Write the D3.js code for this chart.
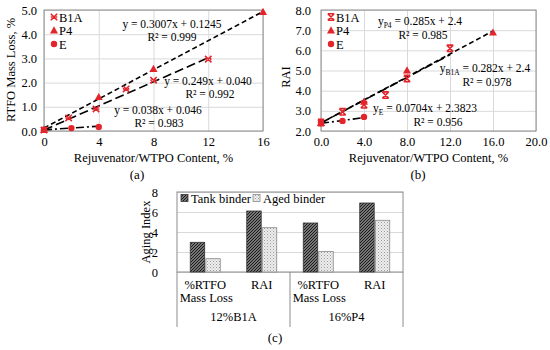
<!DOCTYPE html>
<html>
<head>
<meta charset="utf-8">
<script src="https://cdn.jsdelivr.net/npm/d3@7"></script>
<style>
  html, body { margin: 0; padding: 0; background: #fff; }
  svg { display: block; font-family: "Liberation Serif", "Times New Roman", serif; }
</style>
</head>
<body>
<svg id="chart" width="550" height="350"></svg>
<script>
// ── data ────────────────────────────────────────────────────────────────────
// (a) RTFO mass loss vs content
const massB1A_x = [0, 1.8, 3.8, 6, 8, 12];
const massB1A_y = [0.04, 0.54, 0.91, 1.74, 2.1, 2.97];
const massP4_x  = [0, 4, 8, 16];
const massP4_y  = [0.05, 1.4, 2.56, 4.92];
const massE_x   = [0, 2, 4];
const massE_y   = [0.05, 0.12, 0.17];
const massTicksX = [0, 4, 8, 12, 16];
const massTicksY = [0, 1, 2, 3, 4, 5];

// trendlines (B1A, P4, E) as printed on the chart
const massFitSlope     = [0.249, 0.3007, 0.038];
const massFitIntercept = [0.040, 0.1245, 0.046];
const massFitMaxX      = [12, 16, 4];

// (b) RAI vs content
const raiB1A_x = [0, 2, 4, 6, 8, 12];
const raiB1A_y = [2.42, 2.95, 3.3, 3.78, 4.6, 6.1];
const raiP4_x  = [0, 4, 8, 16];
const raiP4_y  = [2.4, 3.45, 5.0, 6.88];
const raiE_x   = [0, 2, 4];
const raiE_y   = [2.4, 2.5, 2.7];
const raiTicksX = [0, 4, 8, 12, 16, 20];
const raiTicksY = [2, 3, 4, 5, 6, 7, 8];

const raiFitSlope     = [0.282, 0.285, 0.0704];
const raiFitIntercept = [2.4, 2.4, 2.3823];
const raiFitMaxX      = [12, 16, 4];

// (c) aging index bars
const agingGroups  = ["12%B1A", "16%P4"];
const agingIndices = ["%RTFO Mass Loss", "RAI"];
const agingTank    = [2.97, 6.1, 4.9, 6.9];
const agingAged    = [1.33, 4.43, 2.05, 5.17];
const agingTicksY  = [0, 2, 4, 6, 8];

const seriesNames = ["B1A", "P4", "E"];
const barNames    = ["Tank binder", "Aged binder"];

// ── style ───────────────────────────────────────────────────────────────────
const FONT  = "Liberation Serif";
const FS    = 12.5;
const RED   = "#e3242b";
const GRID  = "#d9d9d9";
const FRAME = "#8c8c8c";
const DASH  = ["9,4", "5,3", "8,3,2,3"];   // B1A, P4, E trendlines

const svg = d3.select("#chart");
svg.append("rect").attr("width", 550).attr("height", 350).attr("fill", "#fff");

const defs = svg.append("defs");
const hatch = defs.append("pattern")
  .attr("id", "hatch").attr("patternUnits", "userSpaceOnUse")
  .attr("width", 3).attr("height", 3);
hatch.append("rect").attr("width", 3).attr("height", 3).attr("fill", "#767676");
hatch.append("path").attr("d", "M-1,1 l2,-2 M0,3 l3,-3 M2,4 l2,-2")
  .attr("stroke", "#1a1a1a").attr("stroke-width", 1);

const dots = defs.append("pattern")
  .attr("id", "dots").attr("patternUnits", "userSpaceOnUse")
  .attr("width", 3).attr("height", 3);
dots.append("rect").attr("width", 3).attr("height", 3).attr("fill", "#eeeeee");
dots.append("rect").attr("width", 1).attr("height", 1).attr("fill", "#9a9a9a");
dots.append("rect").attr("x", 1.5).attr("y", 1.5).attr("width", 1).attr("height", 1).attr("fill", "#b5b5b5");

function txt(g) {
  return g.append("text").attr("font-family", FONT).attr("font-size", FS).attr("fill", "#000");
}

// ── marker shapes ───────────────────────────────────────────────────────────
function drawMarker(g, type, x, y, hourglass) {
  if (type === "B1A") {
    const s = 3.2;
    let d = `M${x - s},${y - s}L${x + s},${y + s}M${x + s},${y - s}L${x - s},${y + s}`;
    if (hourglass) d += `M${x - s},${y - s}H${x + s}M${x - s},${y + s}H${x + s}`;
    else d += `M${x - s},${y}H${x - s + 1.5}M${x + s},${y}H${x + s - 1.5}`;
    g.append("path").attr("d", d).attr("stroke", RED).attr("stroke-width", 1.6).attr("fill", "none");
  } else if (type === "P4") {
    g.append("path")
      .attr("d", `M${x},${y - 4.2}L${x + 4},${y + 3}L${x - 4},${y + 3}Z`)
      .attr("fill", RED);
  } else {
    g.append("circle").attr("cx", x).attr("cy", y).attr("r", 3.2).attr("fill", RED);
  }
}

// ── scatter panel ───────────────────────────────────────────────────────────
function scatterPanel(opt) {
  const g = svg.append("g");
  const x = d3.scaleLinear().domain(opt.xDomain).range(opt.xRange);
  const y = d3.scaleLinear().domain(opt.yDomain).range(opt.yRange);

  // axes with gridlines
  g.append("g").attr("transform", `translate(0,${opt.yRange[0]})`)
    .call(d3.axisBottom(x).tickValues(opt.ticksX).tickSize(opt.yRange[1] - opt.yRange[0])
      .tickFormat(d => opt.fmtX(d)).tickPadding(6))
    .call(a => a.select(".domain").remove())
    .call(a => a.selectAll("line").attr("stroke", GRID))
    .call(a => a.selectAll("text").attr("font-family", FONT).attr("font-size", FS).attr("fill", "#000"));

  g.append("g").attr("transform", `translate(${opt.xRange[0]},0)`)
    .call(d3.axisLeft(y).tickValues(opt.ticksY).tickSize(opt.xRange[0] - opt.xRange[1])
      .tickFormat(d3.format(".1f")).tickPadding(opt.yPad))
    .call(a => a.select(".domain").remove())
    .call(a => a.selectAll("line").attr("stroke", GRID))
    .call(a => a.selectAll("text").attr("font-family", FONT).attr("font-size", FS).attr("fill", "#000"));

  // frame
  g.append("rect")
    .attr("x", opt.xRange[0]).attr("y", opt.yRange[1])
    .attr("width", opt.xRange[1] - opt.xRange[0]).attr("height", opt.yRange[0] - opt.yRange[1])
    .attr("fill", "none").attr("stroke", FRAME).attr("stroke-width", 1);

  // trendlines
  const line = d3.line().x(d => x(d[0])).y(d => y(d[1]));
  opt.fitSlope.forEach((m, i) => {
    const b = opt.fitIntercept[i];
    const pts = [[0, b], [opt.fitMaxX[i], m * opt.fitMaxX[i] + b]];
    g.append("path").attr("d", line(pts)).attr("fill", "none")
      .attr("stroke", "#000").attr("stroke-width", 1.6).attr("stroke-dasharray", DASH[i]);
  });

  // markers
  const pts = g.append("g");
  opt.series.forEach((s, i) => {
    s.x.forEach((xv, j) => drawMarker(pts, seriesNames[i], x(xv), y(s.y[j]), opt.hourglass));
  });

  // legend
  seriesNames.forEach((n, i) => {
    drawMarker(g, n, opt.legendX, opt.legendY + i * 13.5, opt.hourglass);
    txt(g).attr("x", opt.legendX + 5).attr("y", opt.legendY + i * 13.5 + 4.5).text(n);
  });

  // equation labels
  opt.labels.forEach(l => {
    const t = txt(g).attr("x", l.x).attr("y", l.y).attr("text-anchor", "middle").attr("font-size", 11.5);
    if (l.sub) {
      t.append("tspan").text("y");
      t.append("tspan").attr("font-size", 7.5).attr("dy", 3).text(l.sub);
      t.append("tspan").attr("dy", -3).text(l.text);
    } else {
      t.text(l.text);
    }
  });

  // axis titles
  const cx = (opt.xRange[0] + opt.xRange[1]) / 2;
  txt(g).attr("x", cx).attr("y", 162).attr("text-anchor", "middle").text("Rejuvenator/WTPO Content, %");
  txt(g).attr("transform", `translate(${opt.yTitleX},${opt.yTitleY}) rotate(-90)`)
    .attr("text-anchor", "middle").text(opt.yTitle);
  txt(g).attr("x", opt.tagX).attr("y", 179).attr("text-anchor", "middle").attr("font-size", 13).text(opt.tag);
}

scatterPanel({
  xDomain: [0, 16], xRange: [44, 263],
  yDomain: [0, 5],  yRange: [131, 10],
  ticksX: massTicksX, ticksY: massTicksY, yPad: 7,
  fmtX: d3.format("d"),
  series: [{ x: massB1A_x, y: massB1A_y }, { x: massP4_x, y: massP4_y }, { x: massE_x, y: massE_y }],
  fitSlope: massFitSlope, fitIntercept: massFitIntercept, fitMaxX: massFitMaxX,
  hourglass: false,
  legendX: 54, legendY: 17,
  labels: [
    { x: 172, y: 28, text: "y = 0.3007x + 0.1245" },
    { x: 172, y: 40.5, text: "R² = 0.999" },
    { x: 208, y: 85, text: "y = 0.249x + 0.040" },
    { x: 210, y: 98, text: "R² = 0.992" },
    { x: 158, y: 114, text: "y = 0.038x + 0.046" },
    { x: 159, y: 127, text: "R² = 0.983" },
  ],
  yTitle: "RTFO Mass Loss, %", yTitleX: 15, yTitleY: 70,
  tag: "(a)", tagX: 137,
});

scatterPanel({
  xDomain: [0, 20], xRange: [321, 536],
  yDomain: [2, 8],  yRange: [131, 10],
  ticksX: raiTicksX, ticksY: raiTicksY, yPad: 10,
  fmtX: d3.format(".1f"),
  series: [{ x: raiB1A_x, y: raiB1A_y }, { x: raiP4_x, y: raiP4_y }, { x: raiE_x, y: raiE_y }],
  fitSlope: raiFitSlope, fitIntercept: raiFitIntercept, fitMaxX: raiFitMaxX,
  hourglass: true,
  legendX: 331, legendY: 17,
  labels: [
    { x: 420, y: 25, sub: "P4", text: " = 0.285x + 2.4" },
    { x: 423, y: 38.5, text: "R² = 0.985" },
    { x: 485, y: 72, sub: "B1A", text: " = 0.282x + 2.4" },
    { x: 487, y: 85.5, text: "R² = 0.978" },
    { x: 425, y: 112, sub: "E", text: " = 0.0704x + 2.3823" },
    { x: 438, y: 125.5, text: "R² = 0.956" },
  ],
  yTitle: "RAI", yTitleX: 290, yTitleY: 77,
  tag: "(b)", tagX: 418,
});

// ── (c) bar panel ───────────────────────────────────────────────────────────
(function barPanel() {
  const g = svg.append("g");
  const left = 177, right = 403, top = 192, bottom = 272;
  const cats = [];
  agingGroups.forEach(gr => agingIndices.forEach(ix => cats.push(gr + "|" + ix)));

  const x0 = d3.scaleBand().domain(cats).range([left, right]);
  const cw = x0.bandwidth();
  const x1 = d3.scaleBand().domain(barNames).range([cw / 2 - 15, cw / 2 + 15]).paddingInner(0.07);
  const y = d3.scaleLinear().domain([0, 8]).range([bottom, top]);

  g.append("g").attr("transform", `translate(${left},0)`)
    .call(d3.axisLeft(y).tickValues(agingTicksY).tickSize(left - right).tickPadding(19))
    .call(a => a.select(".domain").remove())
    .call(a => a.selectAll("line").attr("stroke", GRID))
    .call(a => a.selectAll("text").attr("font-family", FONT).attr("font-size", FS).attr("fill", "#000"));

  g.append("rect").attr("x", left).attr("y", top).attr("width", right - left)
    .attr("height", bottom - top).attr("fill", "none").attr("stroke", FRAME);

  // bars
  const rows = cats.map((c, i) => ({ c, tank: agingTank[i], aged: agingAged[i] }));
  const fills = { "Tank binder": "url(#hatch)", "Aged binder": "url(#dots)" };
  const strokes = { "Tank binder": "#333", "Aged binder": "#8a8a8a" };
  rows.forEach(r => {
    [["Tank binder", r.tank], ["Aged binder", r.aged]].forEach(([n, v]) => {
      g.append("rect")
        .attr("x", x0(r.c) + x1(n)).attr("y", y(v))
        .attr("width", x1.bandwidth()).attr("height", y(0) - y(v))
        .attr("fill", fills[n]).attr("stroke", strokes[n]).attr("stroke-width", 0.8);
    });
  });

  // category axis (two levels)
  [left, (left + right) / 2, right].forEach(xx => {
    g.append("line").attr("x1", xx).attr("x2", xx).attr("y1", bottom).attr("y2", 327)
      .attr("stroke", FRAME);
  });
  cats.forEach(c => {
    const words = c.split("|")[1] === "RAI" ? ["RAI"] : ["%RTFO", "Mass Loss"];
    const t = txt(g).attr("text-anchor", "middle");
    words.forEach((w, k) => {
      t.append("tspan").attr("x", x0(c) + cw / 2 + (k ? 1 : 0)).attr("y", 289 + k * 13).text(w);
    });
  });
  agingGroups.forEach((gr, i) => {
    txt(g).attr("x", left + (right - left) / 4 * (2 * i + 1)).attr("y", 321)
      .attr("text-anchor", "middle").text(gr);
  });

  txt(g).attr("transform", `translate(150,232) rotate(-90)`).attr("text-anchor", "middle").text("Aging Index");

  // legend
  const lx = [185, 257];
  barNames.forEach((n, i) => {
    g.append("rect").attr("x", lx[i] - 4).attr("y", 194.5).attr("width", 7).attr("height", 7)
      .attr("fill", fills[n]).attr("stroke", strokes[n]).attr("stroke-width", 0.8);
    txt(g).attr("x", lx[i] + 6).attr("y", 202.5).text(n);
  });

  txt(svg).attr("x", 275).attr("y", 342).attr("text-anchor", "middle").attr("font-size", 13).text("(c)");
})();
</script>
</body>
</html>
